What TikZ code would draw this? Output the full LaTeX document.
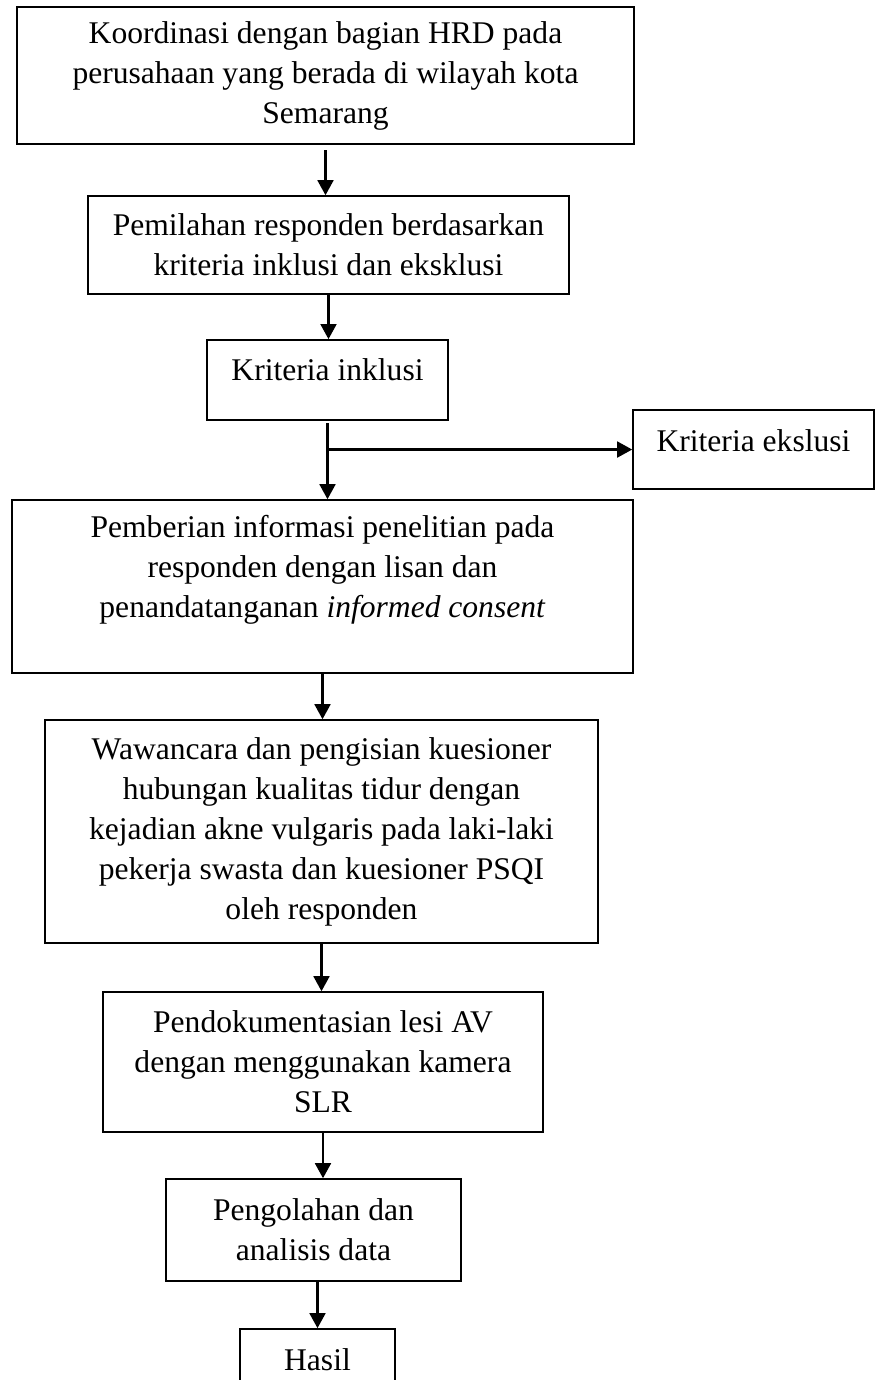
\documentclass[tikz,border=0pt]{standalone}
\usepackage{fontspec}
\setmainfont{Liberation Serif}
\usepackage{tikz}
\usetikzlibrary{arrows.meta}
\newdimen\px \px=0.38pt

\tikzset{
  kotak/.style={draw, line width=0.6pt, align=center, inner sep=0pt, font=\fontsize{12}{15.2}\selectfont},
  satu/.style={draw, line width=0.6pt, inner xsep=0pt, inner ysep=0pt, anchor=base, font=\fontsize{12}{15.2}\selectfont},
  panah/.style={line width=0.9pt, -{Triangle[length=5.7pt,width=6pt]}}
}

\begin{document}
\begin{tikzpicture}[x=0.38pt,y=-0.38pt]
\useasboundingbox (0,0) rectangle (876,1380);
\node[kotak, minimum width=617\px, minimum height=137\px] (koordinasi) at (325.5,75.5) {Koordinasi dengan bagian HRD pada\\ perusahaan yang berada di wilayah kota\\ Semarang};
\node[kotak, minimum width=481\px, minimum height=98\px] (pemilahan) at (328.5,245) {Pemilahan responden berdasarkan\\ kriteria inklusi dan eksklusi};
\node[satu, minimum width=241\px, text height=15.5pt, text depth=14.9pt] (inklusi) at (327.5,380.7) {Kriteria inklusi};
\node[satu, minimum width=241\px, text height=15.85pt, text depth=14.2pt] (eksklusi) at (753.5,451.7) {Kriteria ekslusi};
\node[kotak, minimum width=621\px, minimum height=173\px] (informasi) at (322.5,586.5) {Pemberian informasi penelitian pada\\ responden dengan lisan dan\\ penandatanganan \textit{informed consent}\\ \mbox{}};
\node[kotak, minimum width=553\px, minimum height=223\px] (wawancara) at (321.5,831.5) {Wawancara dan pengisian kuesioner\\ hubungan kualitas tidur dengan\\ kejadian akne vulgaris pada laki-laki\\ pekerja swasta dan kuesioner PSQI\\ oleh responden};
\node[kotak, minimum width=440\px, minimum height=140\px] (dokumentasi) at (323,1062) {Pendokumentasian lesi AV\\ dengan menggunakan kamera\\ SLR};
\node[kotak, minimum width=295\px, minimum height=102\px] (pengolahan) at (313.5,1230) {Pengolahan dan\\ analisis data};
\node[satu, minimum width=155\px, text height=15.6pt, text depth=14.4pt] (hasil) at (317.5,1370) {Hasil};
\draw[panah, shorten <=2pt] (koordinasi.south) -- (koordinasi.south |- pemilahan.north);
\draw[panah] (pemilahan.south) -- (pemilahan.south |- inklusi.north);
\draw[panah, shorten <=1pt] (inklusi.south) -- (inklusi.south |- informasi.north);
\draw[panah] (inklusi.south |- eksklusi.west) -- (eksklusi.west);
\draw[panah] (informasi.south) -- (informasi.south |- wawancara.north);
\draw[panah] (wawancara.south) -- (wawancara.south |- dokumentasi.north);
\draw[panah] (dokumentasi.south) -- (dokumentasi.south |- pengolahan.north);
\draw[panah] (pengolahan.south -| hasil.north) -- (hasil.north);
\end{tikzpicture}
\end{document}
